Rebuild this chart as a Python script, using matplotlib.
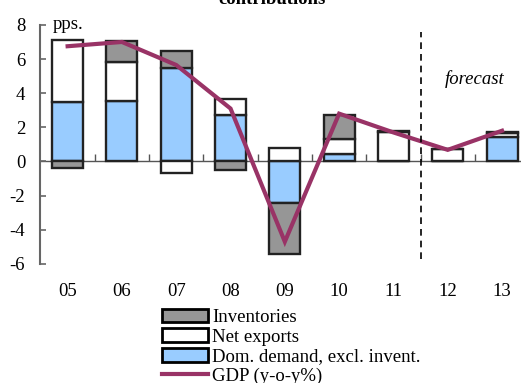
import matplotlib
matplotlib.use('Agg')
import matplotlib.pyplot as plt
from matplotlib.patches import Patch
from matplotlib.lines import Line2D
import numpy as np

plt.rcParams['font.family'] = ['Liberation Serif', 'DejaVu Serif']
plt.rcParams['font.size'] = 13.5

years = ['05', '06', '07', '08', '09', '10', '11', '12', '13']
dom_demand = [3.5, 3.55, 5.5, 2.7, -2.45, 0.45, 0.05, 0.0, 1.43]
net_exports = [3.6, 2.3, -0.65, 0.95, 0.78, 0.86, 1.65, 0.72, 0.25]
inventories = [-0.4, 1.2, 0.95, -0.52, -3.0, 1.42, 0.1, 0.0, 0.05]
gdp = [6.75, 7.0, 5.65, 3.1, -4.7, 2.8, 1.7, 0.68, 1.8]

c_inv = '#969696'
c_nx = '#ffffff'
c_dd = '#99ccff'
c_gdp = '#993366'
edge = '#222222'

fig = plt.figure(figsize=(5.21, 3.83), dpi=100)
ax = fig.add_axes([0.0777, 0.311, 0.938, 0.624])

x = np.arange(len(years))
pos_base = np.zeros(len(years))
neg_base = np.zeros(len(years))
for vals, col in [(dom_demand, c_dd), (net_exports, c_nx), (inventories, c_inv)]:
    vals = np.array(vals)
    base = np.where(vals >= 0, pos_base, neg_base)
    ax.bar(x, vals, width=0.57, bottom=base, color=col, edgecolor=edge,
           linewidth=1.7, zorder=2)
    pos_base += np.where(vals >= 0, vals, 0)
    neg_base += np.where(vals < 0, vals, 0)

ax.plot(x, gdp, color=c_gdp, lw=3, zorder=3, solid_joinstyle='miter')

ax.set_xlim(-0.5, 8.5)
ax.set_ylim(-6, 8)
ax.set_yticks([-6, -4, -2, 0, 2, 4, 6, 8])
ax.set_yticklabels(['-6', '-4', '-2', '0', '2', '4', '6', '8'])

for s in ['top', 'right']:
    ax.spines[s].set_visible(False)
ax.spines['left'].set_color('#666666')
ax.spines['left'].set_linewidth(1.5)
ax.spines['bottom'].set_position(('data', 0))
ax.spines['bottom'].set_color('#555555')
ax.spines['bottom'].set_linewidth(1.0)
ax.spines['bottom'].set_zorder(1)

ax.tick_params(axis='y', direction='in', length=4, width=1.2, color='#666666', pad=11)
ax.set_xticks(x)
ax.set_xticklabels([])
ax.tick_params(axis='x', which='major', length=0)
ax.set_xticks(np.arange(0.5, 8.5, 1), minor=True)
ax.tick_params(axis='x', which='minor', direction='in', length=5, width=1.0, color='#555555')

sec = ax.secondary_xaxis('bottom')
sec.set_xticks(x)
sec.set_xticklabels(years)
sec.tick_params(length=0, pad=14)
sec.spines['bottom'].set_visible(False)

ax.vlines(6.5, -5.7, 7.6, colors='black', linestyles=(0, (4, 3)), lw=1.2, zorder=4)
ax.text(7.5, 4.8, 'forecast', style='italic', ha='center', va='center')
ax.text(-0.27, 8.0, 'pps.', ha='left', va='center')

fig.text(0.522, 1 - 3.5 / 383, 'contributions', ha='center', va='baseline',
         fontweight='bold')

handles = [
    Patch(facecolor=c_inv, edgecolor='black', linewidth=2),
    Patch(facecolor=c_nx, edgecolor='black', linewidth=2),
    Patch(facecolor=c_dd, edgecolor='black', linewidth=2),
    Line2D([0], [0], color=c_gdp, lw=3),
]
labels = ['Inventories', 'Net exports', 'Dom. demand, excl. invent.', 'GDP (y-o-y%)']
fig.legend(handles, labels, loc='upper left', bbox_to_anchor=(0.31, 0.194),
           frameon=False, handlelength=2.5, handleheight=0.75, handletextpad=0.2,
           labelspacing=0.12, borderpad=0, borderaxespad=0)

fig.savefig('out.png', dpi=100)
